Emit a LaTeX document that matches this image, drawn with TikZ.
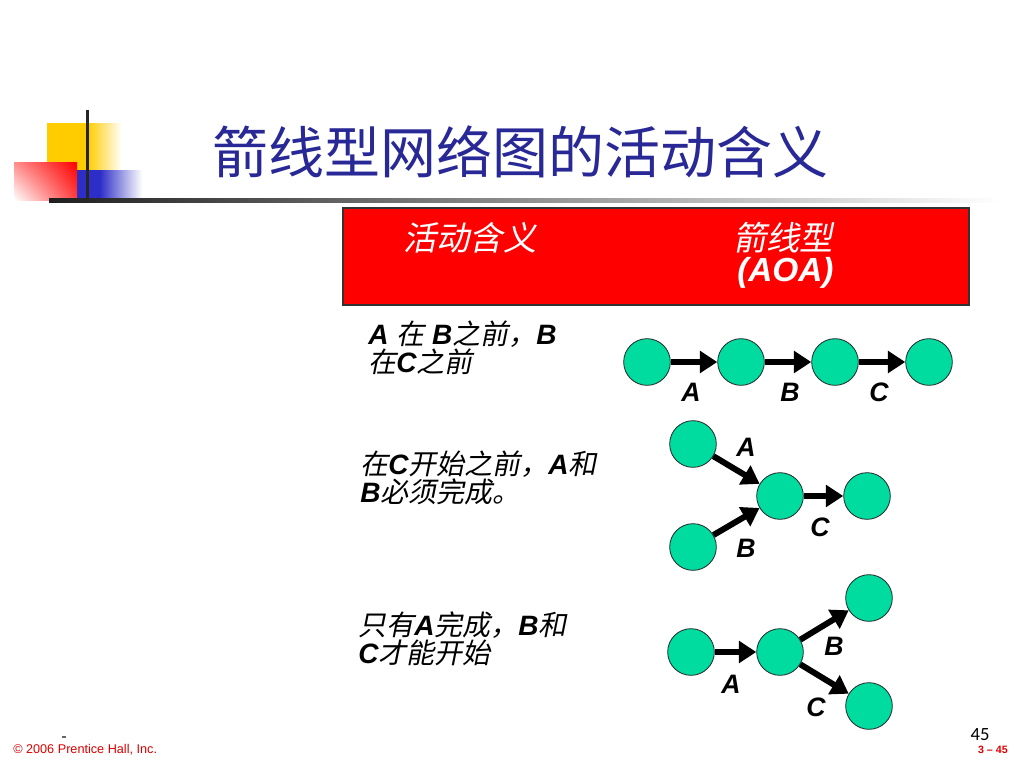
\documentclass[tikz,border=0pt]{standalone}
\usepackage{fontspec}
\setmainfont{Liberation Sans}
\newfontfamily\cjk{Noto Sans CJK SC}
\newfontfamily\cjki[FakeSlant=0.2]{Noto Sans CJK SC}
\newfontfamily\carl{Carlito}
\usetikzlibrary{arrows.meta,shadings}
\definecolor{mint}{RGB}{0,219,160}
\definecolor{titleblue}{RGB}{40,40,150}
\definecolor{logoyellow}{RGB}{255,204,0}
\definecolor{logoblue}{RGB}{45,45,200}
\definecolor{footred}{RGB}{220,0,0}
\newcommand{\zh}[1]{{\cjki\mdseries #1}}
\tikzset{
  ev/.style={circle,draw=black!85,line width=0.6pt,fill=mint,minimum size=35pt,inner sep=0pt},
  arr/.style={-{Triangle[length=13pt,width=16pt]},line width=4.5pt},
  lbl/.style={font=\fontsize{20pt}{20pt}\selectfont\bfseries\itshape,inner sep=0pt},
  rowtxt/.style={font=\fontsize{21pt}{21pt}\selectfont\bfseries\itshape,align=left,inner sep=0pt,anchor=north west},
  hdrtxt/.style={text=white,inner sep=0pt}
}
\begin{document}
\begin{tikzpicture}[x=0.75pt,y=-0.75pt]
\useasboundingbox (0,0) rectangle (1024,768);
\fill[white] (0,0) rectangle (1024,768);
% logo
\fill[logoyellow] (47,123) rectangle (88,170);
\shade[left color=logoyellow,right color=white] (87.5,123) rectangle (122,170);
\fill[logoblue] (77,170) rectangle (100,200);
\shade[left color=logoblue,right color=white] (99.5,170) rectangle (142,200);
\shade[upper left=red!45!white,upper right=red,lower left=white,lower right=red!75!white] (14,162) rectangle (77,200);
\fill[black!85] (85.5,110) rectangle (89,201);
\shade[left color=black!88,middle color=black!45,right color=white] (49,198.5) rectangle (1000,202.5);
% title
\node (title) at (520,152) {\fontsize{42pt}{42pt}\selectfont\cjk\textcolor{titleblue}{箭线型网络图的活动含义}};
% header
\draw[fill=red,draw=black!80,line width=0.8pt] (343,208) rectangle (969,305);
\node[hdrtxt,anchor=west] (h1) at (403,238) {\fontsize{25pt}{25pt}\selectfont\cjki 活动含义};
\node[hdrtxt,anchor=west] (h2) at (733,238) {\fontsize{25pt}{25pt}\selectfont\cjki 箭线型};
\node[hdrtxt,anchor=west] (h3) at (737,273) {\fontsize{25pt}{25pt}\selectfont\bfseries\itshape (AOA)};
% row texts
\node[rowtxt] (t1) at (368,321) {A \zh{在} B\zh{之前，}B\\\zh{在}C\zh{之前}};
\node[rowtxt] (t2) at (360,451) {\zh{在}C\zh{开始之前，}A\zh{和}\\B\zh{必须完成。}};
\node[rowtxt] (t3) at (358,611) {\zh{只有}A\zh{完成，}B\zh{和}\\C\zh{才能开始}};
% row 1
\node[ev] (a1) at (647,362) {};
\node[ev] (a2) at (741,362) {};
\node[ev] (a3) at (835,362) {};
\node[ev] (a4) at (929,362) {};
\draw[arr] (a1) -- (a2);
\draw[arr] (a2) -- (a3);
\draw[arr] (a3) -- (a4);
\node[lbl] (la1) at (691,392) {A};
\node[lbl] (lb1) at (790,392) {B};
\node[lbl] (lc1) at (879,392) {C};
% row 2
\node[ev] (b1) at (693,444) {};
\node[ev] (b2) at (693,547) {};
\node[ev] (b3) at (780,496) {};
\node[ev] (b4) at (867,496) {};
\draw[arr] (b1) -- (b3);
\draw[arr] (b2) -- (b3);
\draw[arr] (b3) -- (b4);
\node[lbl] (la2) at (746,447) {A};
\node[lbl] (lc2) at (820,527) {C};
\node[lbl] (lb2) at (746,548) {B};
% row 3
\node[ev] (c1) at (691,652) {};
\node[ev] (c2) at (780,652) {};
\node[ev] (c3) at (869,598) {};
\node[ev] (c4) at (869,706) {};
\draw[arr] (c1) -- (c2);
\draw[arr] (c2) -- (c3);
\draw[arr] (c2) -- (c4);
\node[lbl] (la3) at (731,684) {A};
\node[lbl] (lb3) at (834,646) {B};
\node[lbl] (lc3) at (816,707) {C};
% footer
\draw[black!60,line width=0.8pt] (62,737) -- (66,737);
\node[anchor=west,inner sep=0pt,text=footred] (copy) at (13,750) {\fontsize{9.5pt}{9.5pt}\selectfont © 2006 Prentice Hall, Inc.};
\node[anchor=east,inner sep=0pt,text=footred] (pg) at (1008,750) {\fontsize{8pt}{8pt}\selectfont\bfseries 3 – 45};
\node[inner sep=0pt] (num) at (980,735) {\fontsize{14pt}{14pt}\selectfont\carl 45};
\end{tikzpicture}
\end{document}
